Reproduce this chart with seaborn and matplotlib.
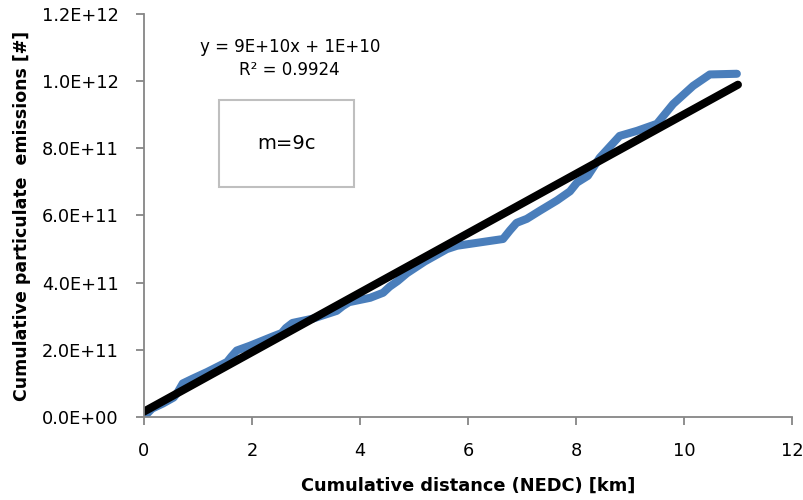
import numpy as np
import pandas as pd
import matplotlib
matplotlib.use("Agg")
import matplotlib.pyplot as plt
import seaborn as sns
from matplotlib.patches import Rectangle
from matplotlib.ticker import FuncFormatter

# cumulative distance [km] and cumulative PN [#]
distance = [0.0, 0.15, 0.35, 0.55, 0.63, 0.72, 0.9, 1.17, 1.54, 1.62, 1.72, 1.96,
            2.39, 2.55, 2.63, 2.75, 3.13, 3.57, 3.68, 3.8, 4.19, 4.43, 4.55, 4.7,
            4.87, 5.2, 5.61, 5.8, 6.65, 6.78, 6.9, 7.09, 7.33, 7.65, 7.89, 8.02,
            8.22, 8.44, 8.81, 9.13, 9.5, 9.8, 10.17, 10.48, 10.98]
emissions = [0.0, 0.025e12, 0.04e12, 0.058e12, 0.075e12, 0.1e12, 0.114e12, 0.134e12,
             0.164e12, 0.18e12, 0.198e12, 0.212e12, 0.24e12, 0.25e12, 0.265e12,
             0.28e12, 0.293e12, 0.316e12, 0.33e12, 0.342e12, 0.355e12, 0.37e12,
             0.388e12, 0.405e12, 0.428e12, 0.463e12, 0.5e12, 0.51e12, 0.53e12,
             0.556e12, 0.578e12, 0.59e12, 0.614e12, 0.645e12, 0.672e12, 0.698e12,
             0.718e12, 0.772e12, 0.837e12, 0.852e12, 0.873e12, 0.932e12, 0.986e12,
             1.02e12, 1.022e12]

# linear trend line (Excel label: y = 9E+10x + 1E+10)
trend_slope = 8.85e10
trend_intercept = 1.6e10
trend_x = [0.0, 11.0]
eq_label = "y = 9E+10x + 1E+10"
r2_label = "R² = 0.9924"
box_label = "m=9c"

sns.set_style("ticks")
plt.rcParams['font.family'] = ['DejaVu Sans']
plt.rcParams['text.color'] = 'black'
plt.rcParams['axes.labelcolor'] = 'black'

df = pd.DataFrame({"dist": distance, "pn": emissions})
trend = pd.DataFrame({"dist": trend_x})
trend["pn"] = trend_slope * trend["dist"] + trend_intercept

fig = plt.figure(figsize=(8.04, 5.0), dpi=100)
ax = fig.add_axes([0.179, 0.166, 0.806, 0.806])

sns.lineplot(data=df, x="dist", y="pn", ax=ax, color="#4A7EBB", lw=5.8,
             solid_capstyle="round", solid_joinstyle="round")
sns.lineplot(data=trend, x="dist", y="pn", ax=ax, color="black", lw=5.8,
             solid_capstyle="round")

ax.set_xlim(0, 12)
ax.set_ylim(0, 1.2e12)
ax.set_xticks(range(0, 13, 2))
ax.set_yticks(np.arange(0, 1.21e12, 0.2e12))
ax.yaxis.set_major_formatter(FuncFormatter(lambda v, p: f"{v:.1E}"))
ax.tick_params(labelsize=12.8, colors="#868686", labelcolor="black", length=6, width=1.3)
ax.tick_params(axis="y", pad=12)
ax.tick_params(axis="x", pad=12)
for s in ["top", "right"]:
    ax.spines[s].set_visible(False)
for s in ["left", "bottom"]:
    ax.spines[s].set_color("#868686")
    ax.spines[s].set_linewidth(1.3)

ax.set_xlabel("Cumulative distance (NEDC) [km]", fontsize=12.8, fontweight="bold", labelpad=12)
ax.set_ylabel("Cumulative particulate  emissions [#]", fontsize=12.5, fontweight="bold", labelpad=8)

ax.text(2.7, 1.101e12, eq_label, ha="center", va="center", fontsize=12)
ax.text(2.7, 1.033e12, r2_label, ha="center", va="center", fontsize=12)
ax.add_patch(Rectangle((1.39, 0.685e12), 2.5, 0.258e12, fill=False,
                       edgecolor="#BFBFBF", lw=1.5))
ax.text(2.64, 0.814e12, box_label, ha="center", va="center", fontsize=14)

fig.savefig("out.png", dpi=100)
